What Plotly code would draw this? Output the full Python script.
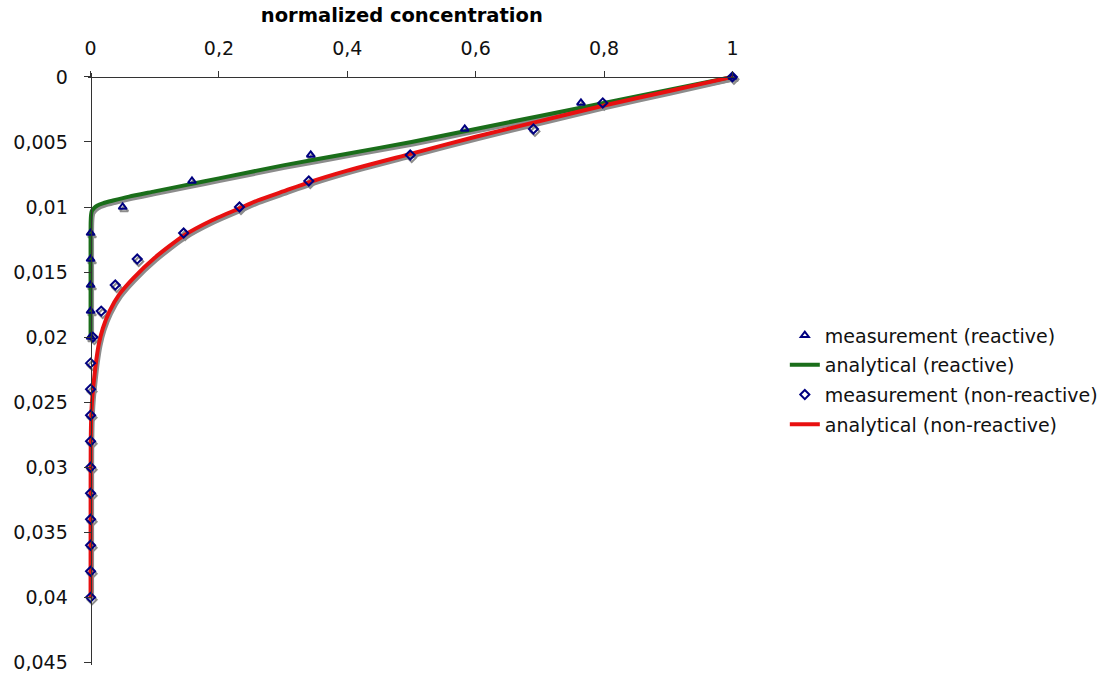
import plotly.graph_objects as go

# ---------------- data ----------------
# measurement (reactive): normalized concentration vs depth
meas_r_conc = [1.0, 0.764, 0.583, 0.343, 0.158, 0.050, 0.0, 0.0, 0.0, 0.0, 0.0]
meas_r_depth = [0.0, 0.002, 0.004, 0.006, 0.008, 0.010, 0.012, 0.014, 0.016, 0.018, 0.020]

# analytical (reactive)
ana_r_conc = [1.0, 0.9, 0.8, 0.7, 0.6, 0.5, 0.4, 0.3, 0.2, 0.15, 0.1, 0.06, 0.035,
              0.02, 0.01, 0.005, 0.002, 0.0008, 0.0002, 0.0, 0.0]
ana_r_depth = [0.0, 0.0010, 0.0020, 0.0030, 0.0040, 0.0050, 0.0059, 0.0068, 0.0078,
               0.0083, 0.0088, 0.0092, 0.0095, 0.0097, 0.0099, 0.0101, 0.0103,
               0.0106, 0.0111, 0.0120, 0.0200]

# measurement (non-reactive)
meas_n_conc = [1.0, 0.798, 0.690, 0.498, 0.340, 0.232, 0.145, 0.0727, 0.0385, 0.0166,
               0.0036, 0.0, 0.0, 0.0, 0.0, 0.0, 0.0, 0.0, 0.0, 0.0, 0.0]
meas_n_depth = [0.0, 0.002, 0.004, 0.006, 0.008, 0.010, 0.012, 0.014, 0.016, 0.018,
                0.020, 0.022, 0.024, 0.026, 0.028, 0.030, 0.032, 0.034, 0.036, 0.038, 0.040]

# analytical (non-reactive)
ana_n_conc = [1.0, 0.9, 0.8, 0.7, 0.6, 0.5, 0.4, 0.34, 0.3, 0.26, 0.232, 0.19, 0.145,
              0.10, 0.066, 0.045, 0.0296, 0.0192, 0.013, 0.0088, 0.0057, 0.0036,
              0.002, 0.001, 0.0004, 0.0001, 0.0]
ana_n_depth = [0.0, 0.0011, 0.0022, 0.0034, 0.0046, 0.0059, 0.0072, 0.0081, 0.0088,
               0.0095, 0.0101, 0.0110, 0.0122, 0.0139, 0.0155, 0.0167, 0.0180, 0.0193,
               0.0205, 0.0218, 0.0231, 0.0241, 0.0251, 0.0261, 0.0275, 0.0300, 0.0400]

x_tick_vals = [0, 0.2, 0.4, 0.6, 0.8, 1.0]
x_tick_text = ["0", "0,2", "0,4", "0,6", "0,8", "1"]
y_tick_vals = [0, 0.005, 0.01, 0.015, 0.02, 0.025, 0.03, 0.035, 0.04, 0.045]
y_tick_text = ["0", "0,005", "0,01", "0,015", "0,02", "0,025", "0,03", "0,035", "0,04", "0,045"]

names = ["measurement (reactive)", "analytical (reactive)",
         "measurement (non-reactive)", "analytical (non-reactive)"]
title_text = "normalized concentration"

# ---------------- layout constants ----------------
W, H = 1117, 684
ML, MR, MT, MB = 88, 382, 73, 11
X_RANGE = [-0.004, 1.004]
Y_RANGE = [0.0452, -0.0003]
plot_w = W - ML - MR
plot_h = H - MT - MB
px_per_x = plot_w / (X_RANGE[1] - X_RANGE[0])
px_per_y = plot_h / (Y_RANGE[0] - Y_RANGE[1])
SH_DX, SH_DY = 1.5, 2.5  # shadow offset in pixels
sdx = SH_DX / px_per_x
sdy = SH_DY / px_per_y

FONT = "DejaVu Sans"
FS = 19
NAVY = "#000080"
GREEN = "#1a6e1a"
RED = "#e81010"
SHADOW = "#8c8c8c"
TXT = "#111111"
MS = 7

fig = go.Figure()

def shifted(xs, ys):
    return [v + sdx for v in xs], [v + sdy for v in ys]

# shadows
for xs, ys in [(ana_r_conc, ana_r_depth), (ana_n_conc, ana_n_depth)]:
    sx, sy = shifted(xs, ys)
    fig.add_trace(go.Scatter(x=sx, y=sy, mode="lines", showlegend=False, hoverinfo="skip",
                             line=dict(color=SHADOW, width=4, shape="spline", smoothing=0.6)))
for xs, ys, sym in [(meas_r_conc, meas_r_depth, "triangle-up-open"),
                    (meas_n_conc, meas_n_depth, "diamond-open")]:
    sx, sy = shifted(xs, ys)
    fig.add_trace(go.Scatter(x=sx, y=sy, mode="markers", showlegend=False, hoverinfo="skip",
                             cliponaxis=False,
                             marker=dict(symbol=sym, size=MS, color=SHADOW,
                                         line=dict(width=2, color=SHADOW))))

# lines
fig.add_trace(go.Scatter(x=ana_r_conc, y=ana_r_depth, mode="lines", name=names[1],
                         legendgroup="g2", legendrank=2,
                         line=dict(color=GREEN, width=4, shape="spline", smoothing=0.6)))
fig.add_trace(go.Scatter(x=ana_n_conc, y=ana_n_depth, mode="lines", name=names[3],
                         legendgroup="g4", legendrank=4,
                         line=dict(color=RED, width=4, shape="spline", smoothing=0.6)))
# markers
fig.add_trace(go.Scatter(x=meas_r_conc, y=meas_r_depth, mode="markers", name=names[0],
                         legendgroup="g1", legendrank=1, cliponaxis=False,
                         marker=dict(symbol="triangle-up-open", size=MS, color=NAVY,
                                     line=dict(width=2, color=NAVY))))
fig.add_trace(go.Scatter(x=meas_n_conc, y=meas_n_depth, mode="markers", name=names[2],
                         legendgroup="g3", legendrank=3, cliponaxis=False,
                         marker=dict(symbol="diamond-open", size=MS, color=NAVY,
                                     line=dict(width=2, color=NAVY))))

x0_paper = (0 - X_RANGE[0]) / (X_RANGE[1] - X_RANGE[0])
y0_paper = (Y_RANGE[0] - 0) / (Y_RANGE[0] - Y_RANGE[1])

fig.update_layout(
    width=W, height=H,
    margin=dict(l=ML, r=MR, t=MT, b=MB),
    paper_bgcolor="white", plot_bgcolor="white",
    font=dict(family=FONT, size=FS, color=TXT),
    title=dict(text="<b>" + title_text + "</b>", x=0.485, xref="paper", xanchor="center",
               y=1 - 15 / H, yref="container", yanchor="middle",
               font=dict(family=FONT, size=19.5, color="#000000")),
    showlegend=True,
    legend=dict(x=1.077, y=0.589, xanchor="left", yanchor="top",
                font=dict(family=FONT, size=FS, color=TXT),
                tracegroupgap=2, itemwidth=30, bgcolor="rgba(0,0,0,0)"),
    xaxis=dict(range=X_RANGE, side="top", anchor="free", position=y0_paper,
               tickvals=x_tick_vals, ticktext=x_tick_text,
               showgrid=False, zeroline=False, showline=True, linecolor="#333333", linewidth=1,
               ticks="outside", ticklen=6, tickcolor="#333333",
               tickfont=dict(family=FONT, size=FS, color=TXT), ticklabelstandoff=8),
    yaxis=dict(range=Y_RANGE, anchor="free", position=x0_paper,
               tickvals=y_tick_vals, ticktext=y_tick_text,
               showgrid=False, zeroline=False, showline=True, linecolor="#333333", linewidth=1,
               ticks="outside", ticklen=7, tickcolor="#333333",
               tickfont=dict(family=FONT, size=FS, color=TXT), ticklabelstandoff=12),
)

fig.write_html("out.html")
